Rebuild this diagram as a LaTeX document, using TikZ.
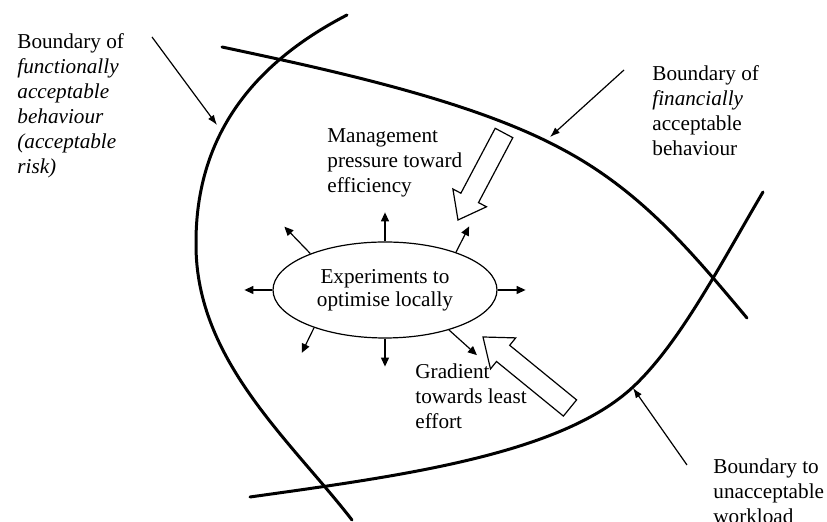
\documentclass[tikz,border=0pt]{standalone}
\usepackage{fontspec}
\setmainfont{Liberation Serif}
\usetikzlibrary{arrows.meta,shapes.geometric}
\tikzset{
  boundary/.style={line width=1.5pt,line cap=round},
  lblarrow/.style={line width=0.6pt,-{Latex[length=5pt,width=3.6pt]}},
  smallarrow/.style={line width=0.6pt,-{Triangle[length=4.5pt,width=4pt]}},
  bigarrow/.style={line width=0.6pt,line join=miter,fill=white},
  lbl/.style={inner sep=0pt,align=left,font=\fontsize{10.6}{12.5}\selectfont},
  expellipse/.style={ellipse,draw,line width=0.6pt,inner sep=0pt,
    minimum width=112pt,minimum height=48pt,align=center,
    font=\fontsize{10.6}{11.5}\selectfont}
}
\begin{document}
\begin{tikzpicture}[x=0.5pt,y=-0.5pt]
\useasboundingbox (0,0) rectangle (827,522);
% coordinates
\coordinate (Fstart) at (152, 37);%
\coordinate (Ftip)   at (217,125);%
\coordinate (Cstart) at (624, 70);%
\coordinate (Ctip)   at (550,137);%
\coordinate (Wstart) at (687,465);%
\coordinate (Wtip)   at (633,388);%
% boundaries
\draw[boundary] (347,15) .. controls (260,60) and (195,130) .. (196,245)
  .. controls (196,360) and (290,440) .. (352,520);
\draw[boundary] (222,47) .. controls (330,70) and (470,100) .. (560,148)
  .. controls (640,190) and (690,250) .. (747,318);
\draw[boundary] (250,497) .. controls (400,476) and (560,455) .. (633,387)
  .. controls (680,343) and (720,265) .. (763,192);
% labels
\node[lbl,anchor=north west] (Flbl) at (17,33.5)
  {Boundary of\\\textit{functionally}\\\textit{acceptable}\\\textit{behaviour}\\\textit{(acceptable}\\\textit{risk)}};
\node[lbl,anchor=north west] (Clbl) at (652,65.5)
  {Boundary of\\\textit{financially}\\acceptable\\behaviour};
\node[lbl,anchor=north west] (Wlbl) at (713,458.5)
  {Boundary to\\unacceptable\\workload};
\node[lbl,anchor=north west] (Mlbl) at (327,128)
  {Management\\pressure toward\\efficiency};
\node[lbl,anchor=north west] (Glbl) at (415,363.5)
  {Gradient\\towards least\\effort};
\draw[lblarrow] (Fstart) -- (Ftip);
\draw[lblarrow] (Cstart) -- (Ctip);
\draw[lblarrow] (Wstart) -- (Wtip);
% experiments
\node[expellipse] (exp) at (385,290) {Experiments to\\optimise locally};
\draw[smallarrow] (exp.154) -- ++(134:18.7pt);
\draw[smallarrow] (exp.north) -- ++(90:14.5pt);
\draw[smallarrow] (exp.28) -- ++(63:14.5pt);
\draw[smallarrow] (exp.west) -- ++(180:14pt);
\draw[smallarrow] (exp.east) -- ++(0:14pt);
\draw[smallarrow] (exp.208) -- ++(244:14pt);
\draw[smallarrow] (exp.south) -- ++(270:14pt);
\draw[smallarrow] (exp.328) -- ++(318:18.8pt);
% pressures
\draw[bigarrow] (512.8,137.7) -- (478.5,202.6) -- (486.5,206.8) -- (458,220)
  -- (452.9,189.0) -- (460.9,193.2) -- (495.2,128.3) -- cycle;
\draw[bigarrow] (576.6,399.9) -- (509.7,345.3) -- (515.7,337.9) -- (483,337)
  -- (490.5,368.9) -- (496.5,361.5) -- (563.4,416.1) -- cycle;
\end{tikzpicture}
\end{document}
